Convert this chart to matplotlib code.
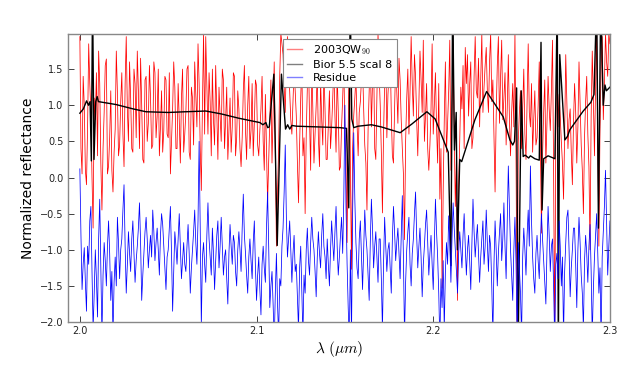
import numpy as np
import matplotlib
matplotlib.use("Agg")
import matplotlib.pyplot as plt

# wavelength grid of spectrum / residue (2.00 .. 2.30 um)
wl_start, wl_stop, n_pts = 2.0, 2.3, 481

spectrum = [
    1.95, 0.40, 0.05, 1.40, 1.00, 0.10, -0.10, 0.70, 1.85, 1.30, 0.90, 0.00, -0.70, 1.10, 0.80, 1.45,
    0.30, 1.75, 1.30, 0.20, -0.45, 0.40, 0.90, 1.55, 1.64, 0.05, 0.16, 0.55, 1.20, 0.10, -0.20, 0.35,
    0.67, 1.75, 1.18, 0.30, 0.45, 1.05, 1.45, 0.60, 0.15, 1.30, 1.95, 0.95, 0.50, 1.60, 1.10, 0.40,
    0.35, 1.50, 1.30, 0.55, 1.75, 1.20, 0.40, 1.65, 1.00, 0.25, 0.20, 1.35, 1.40, 0.50, 0.75, 1.55,
    1.10, 0.40, 0.45, 1.60, 1.45, 0.55, 0.85, 1.50, 0.30, 0.70, 1.20, 0.35, 0.65, 1.40, 1.35, 0.60,
    0.55, 1.45, 0.05, 0.50, 0.95, 1.60, 1.25, 0.40, 0.40, 1.30, 0.80, 0.20, 1.10, 1.50, 0.35, 0.60,
    0.90, 1.50, 1.55, 0.35, 0.25, 1.25, 1.10, 0.45, 1.60, 1.15, 0.70, 1.85, 1.30, 0.40, -0.18, 1.00,
    2.00, 0.60, 1.95, 1.30, 0.60, 1.45, 1.05, 0.30, 1.50, 0.80, 0.45, 1.55, 0.90, 0.25, 1.25, 0.85,
    0.50, 1.50, 1.35, 0.40, 0.80, 1.25, 0.25, 0.65, 1.10, 0.35, 0.70, 1.45, 1.40, 0.30, 0.55, 1.20,
    0.95, 0.40, 0.15, 0.55, 1.20, 1.55, 0.65, 0.25, 1.00, 1.40, 0.40, 0.65, 1.30, 0.30, 0.75, 1.35,
    1.27, 0.45, 0.30, 0.65, 0.95, 1.40, 0.50, 0.10, 1.15, 0.40, -0.35, 0.25, 0.80, 1.35, 0.20, 0.90,
    1.60, 0.30, -0.95, -0.20, 0.40, 1.40, 2.00, 1.85, 1.70, 1.25, 0.90, 1.60, 1.95, 1.40, 1.20, 0.80,
    0.60, 1.05, 1.50, 1.20, 0.85, 0.20, -0.35, 0.45, 1.10, 1.60, 0.30, 0.55, -0.50, 0.60, 1.25, 1.70,
    0.80, 0.10, 1.65, 0.90, 0.20, 0.60, 1.00, 1.45, 0.55, 0.15, 1.35, 0.80, 0.45, 1.50, 0.95, 0.25,
    0.25, 0.75, 1.20, 0.40, 0.70, 1.10, 1.55, 0.85, 0.35, 1.45, 0.90, 0.10, 0.15, 0.70, 1.10, 1.60,
    0.60, 0.20, -0.90, 0.65, 1.85, 0.10, -1.27, 0.40, 0.85, 1.10, 1.40, 0.75, 0.30, 0.90, 1.05, 1.35,
    1.55, 0.95, 0.45, 0.20, -0.45, 0.65, 1.20, 1.75, 0.70, 1.30, 1.70, 0.40, 0.25, 1.10, 2.00, 1.45,
    1.00, 0.35, -0.49, 0.60, 1.30, 1.80, 0.55, 1.15, 1.45, 1.75, 0.90, 0.30, 0.20, 0.95, 1.60, 1.20,
    0.75, 1.65, 1.35, 0.80, 0.40, 0.05, -0.86, 0.50, 1.10, 1.50, 0.60, 1.20, 1.95, 1.30, 0.85, 1.70,
    1.40, 0.80, 0.30, 1.00, 1.75, 1.35, 0.90, 1.90, 0.50, 0.85, 1.30, 0.40, 0.10, 0.45, 0.95, 1.85,
    0.60, 1.00, 1.45, 0.70, 0.20, 1.30, -0.30, 0.40, -1.53, -0.20, 0.80, 1.60, 0.35, 0.75, 1.20, 1.90,
    0.10, 0.90, 1.85, 0.60, -0.40, 0.30, -1.70, -0.10, 0.50, 1.25, 0.95, 1.55, 0.40, 1.80, 1.30, 1.70,
    0.85, 1.30, 1.60, 0.40, 0.55, 1.40, 1.95, 1.20, 1.10, 1.65, 0.70, 1.35, 2.00, 0.90, 1.25, 1.55,
    1.80, 1.20, 0.90, 1.60, 2.00, 1.05, 1.35, 0.60, -0.20, 0.85, 1.55, 1.95, 0.75, 1.40, 1.90, 0.80,
    1.10, 1.45, 0.45, 0.95, 1.70, 0.80, 0.30, 0.90, 1.30, 0.70, 2.00, 0.20, -2.40, 0.50, 0.90, 1.20,
    0.40, 0.95, 1.50, 0.60, 0.25, 1.05, 1.85, 0.90, 0.70, 1.30, 0.35, 0.80, 1.20, 0.45, 0.55, 1.00,
    1.60, 0.50, -0.77, 0.30, 0.90, 1.35, 0.20, 0.75, 1.40, 0.95, 0.65, 1.20, 1.90, 0.10, -2.30, 0.60,
    2.00, 0.70, 1.15, 0.85, 0.50, 0.20, -0.30, 0.60, 1.70, 1.05, 0.40, 0.80, 0.95, 0.35, -0.10, 0.75,
    1.30, 0.90, 0.20, 0.70, 1.60, 1.00, 0.45, 0.10, -0.50, 0.55, 1.05, 1.40, 0.60, 0.15, -1.00, 0.85,
    1.75, 1.10, 0.30, 1.25, 2.00, 0.40, -0.95, 0.65, 1.50, 1.95, 0.80, 1.30, 2.00, 1.60, 1.40, 2.00,
    1.85,
]

residue = [
    0.12, -0.80, -1.55, -1.20, -0.97, -1.45, -1.85, -0.95, -1.20, -0.60, -0.40, -1.30, -2.10, -1.60, -1.00, -1.40,
    -1.93, -0.85, -0.30, -1.25, -2.20, -1.35, -0.90, -1.15, -1.50, -0.95, -0.60, -1.05, -1.70, -1.30, -2.20, -1.45,
    -1.10, -1.50, -0.55, -0.90, -1.40, -1.00, -0.85, -0.45, -0.10, -0.95, -1.60, -1.20, -0.75, -1.05, -1.30, -0.85,
    -0.60, -1.05, -1.45, -1.15, -0.95, -0.70, -0.35, -0.90, -1.70, -1.35, -1.05, -0.75, -0.55, -0.85, -1.25, -1.00,
    -0.80, -1.10, -0.45, -0.75, -1.15, -0.90, -0.70, -1.00, -1.35, -0.80, -0.50, -0.65, -0.95, -1.25, -1.55, -1.10,
    -1.00, -0.70, -0.40, -1.05, -1.85, -1.30, -0.75, -0.95, -1.20, -0.85, -0.50, -0.95, -1.40, -1.15, -0.90, -1.20,
    -1.30, -0.95, -0.65, -1.05, -1.60, -1.25, -1.00, -0.75, -0.45, -0.90, -1.20, -0.60, 0.50, -0.70, -2.05, -1.10,
    -0.90, -1.20, -1.45, -0.80, -0.35, -0.85, -1.10, -1.35, -0.70, -1.05, -1.55, -1.15, -0.80, -0.60, -1.25, -0.95,
    -0.55, -0.95, -1.35, -1.10, -1.00, -1.40, -1.75, -1.05, -0.65, -0.95, -1.20, -0.80, -0.90, -1.30, -1.50, -1.00,
    -0.75, -1.00, -1.30, -0.70, -0.23, -0.80, -1.05, -1.35, -1.60, -1.10, -0.85, -1.15, -1.40, -0.90, -0.60, -1.25,
    -1.70, -1.35, -1.10, -1.55, -1.90, -1.20, -0.95, -1.25, -1.45, -0.70, -0.20, -0.95, -1.80, -1.50, -1.30, -1.75,
    -2.30, -1.60, -1.05, -1.75, -2.20, -1.40, -1.50, -0.95, -0.70, -0.20, 0.45, -0.55, -1.10, -0.85, -0.60, -1.00,
    -1.45, -1.05, -0.80, -1.30, -1.20, -1.65, -2.10, -1.25, -0.95, -1.55, -2.20, -1.35, -1.60, -1.00, -0.70, -1.15,
    -1.35, -0.90, -0.55, -0.85, -1.00, -1.30, -1.65, -1.10, -0.75, -1.05, -1.25, -0.80, -0.50, -0.95, -1.10, -1.40,
    -0.85, -1.20, -1.50, -1.00, -0.60, -0.90, -1.15, -0.75, -0.40, -0.95, -1.35, -1.10, -0.80, -0.55, -1.05, -0.30,
    1.00, -0.40, -1.20, -1.80, -2.30, -1.00, -2.20, -0.50, 0.62, -0.30, -0.90, -1.25, -1.40, -0.85, -0.60, -1.10,
    -1.55, -1.00, -0.45, -0.80, -1.00, -1.35, -1.70, -0.90, -0.30, -0.70, -1.25, -0.95, -0.75, -1.10, -1.45, -0.85,
    -0.85, -1.40, -2.10, -1.20, -0.55, -0.95, -1.30, -1.00, -0.90, -1.25, -1.60, -0.85, -0.40, -0.75, -1.15, -0.90,
    -0.70, -1.05, -1.40, -0.80, -0.25, -1.10, -2.20, -1.45, -1.00, -0.75, -0.55, -1.20, -1.50, -1.05, -0.85, -0.50,
    -0.20, -0.80, -1.25, -0.95, -0.70, -1.10, -1.65, -1.20, -0.95, -0.65, -0.45, -0.90, -1.35, -1.05, -0.80, -1.20,
    -1.55, -0.95, -0.30, -0.75, -1.10, -1.60, -2.30, -1.40, -1.80, -1.15, -2.10, -1.30, -0.90, -1.20, -0.53, -0.90,
    -1.45, -0.85, -0.35, -0.70, -1.00, -1.30, -1.60, -1.05, -0.75, -1.00, -1.25, -0.80, -0.50, -0.95, -1.35, -1.00,
    -0.80, -1.15, -1.55, -0.90, -0.30, -0.75, -1.10, -0.85, -0.65, -1.05, -1.45, -1.10, -0.85, -0.60, -1.20, -0.95,
    -0.45, -0.90, -1.30, -0.80, -0.95, -1.50, -2.20, -1.20, -0.60, -1.00, -1.50, -1.05, -0.75, -0.50, -1.15, -0.85,
    -0.35, -0.95, -1.40, -0.60, 0.16, -0.45, -1.00, -1.35, -1.70, -1.00, -0.55, -1.20, -2.30, -0.90, -1.25, -1.60,
    -2.20, -1.10, -0.70, -1.00, -1.35, -0.80, -0.45, -0.95, 0.16, -0.60, -1.10, -1.40, -1.60, -1.05, -0.80, -1.15,
    -1.40, -0.90, -0.50, -0.85, -1.15, -1.45, -1.75, -1.00, -0.40, -0.80, -1.30, -0.95, -0.85, -1.50, -2.30, -1.20,
    -1.05, -1.40, -0.60, -0.95, -1.50, -1.10, -2.20, -1.30, -0.90, -0.55, -0.45, -1.00, -1.65, -1.25, -1.00, -0.70,
    -0.70, -1.20, -1.80, -1.00, -0.55, -0.90, -1.35, -1.60, -2.10, -1.15, -0.80, -1.05, -1.45, -0.95, -0.65, -1.30,
    -2.20, -1.55, -1.10, -0.80, -0.50, -1.05, -1.60, -1.25, -2.30, -1.10, -0.75, -0.40, 0.10, -0.60, -1.35, -0.95,
    -0.60,
]

model_x = [
    2.0000, 2.0020, 2.0038, 2.0049, 2.0058, 2.0065, 2.0072, 2.0080, 2.0090,
    2.0098, 2.0105, 2.0204, 2.0300, 2.0374, 2.0500, 2.0600, 2.0713, 2.0800,
    2.0900, 2.1019, 2.1036, 2.1053, 2.1063, 2.1072, 2.1098, 2.1117, 2.1141,
    2.1164, 2.1176, 2.1188, 2.1200, 2.1226, 2.1350, 2.1472, 2.1509, 2.1522,
    2.1530, 2.1539, 2.1550, 2.1575, 2.1650, 2.1706, 2.1813, 2.1879, 2.1964,
    2.2011, 2.2085, 2.2100, 2.2110, 2.2120, 2.2130, 2.2137, 2.2150, 2.2161,
    2.2236, 2.2302, 2.2396, 2.2434, 2.2450, 2.2460, 2.2472, 2.2480, 2.2498,
    2.2509, 2.2520, 2.2540, 2.2550, 2.2575, 2.2600, 2.2610, 2.2616, 2.2625,
    2.2650, 2.2689, 2.2702, 2.2708, 2.2716, 2.2745, 2.2760, 2.2773, 2.2849,
    2.2892, 2.2910, 2.2925, 2.2935, 2.2948, 2.2962, 2.2972, 2.2980, 2.3000,
]
model_y = [
    0.89, 0.95, 1.06, 1.00, 1.05, 0.23, 2.50, 0.25, 1.05,
    1.12, 1.05, 1.01, 0.95, 0.91, 0.90, 0.91, 0.92, 0.88,
    0.82, 0.76, 0.73, 0.76, 0.69, 0.70, 1.43, -0.94, 1.43,
    0.67, 0.73, 0.67, 0.72, 0.71, 0.70, 0.69, 0.68, -0.42,
    2.50, 0.81, 0.69, 0.71, 0.73, 0.70, 0.62, 0.74, 0.91,
    0.81, 0.35, -1.22, 2.50, 0.38, 0.90, -1.00, 0.25, 0.22,
    0.80, 1.19, 0.84, 0.52, 0.45, 0.50, 1.24, -2.50, 1.20,
    0.29, 0.31, 0.27, 0.30, 0.26, 0.24, 1.87, -0.45, 0.26,
    0.30, 0.26, 2.50, -2.50, 1.70, 0.52, 0.57, 0.66, 0.92,
    1.04, 1.15, 2.50, -0.70, 2.50, 1.00, 1.28, 1.20, 1.25,
]

labels = ["2003QW$_{\\mathsf{90}}$", "Bior 5.5 scal 8", "Residue"]
x_ticks = [2.0, 2.1, 2.2, 2.3]
y_ticks = [-2.0, -1.5, -1.0, -0.5, 0.0, 0.5, 1.0, 1.5]

wl = np.linspace(wl_start, wl_stop, n_pts)

plt.rcParams['font.family'] = ['DejaVu Sans']
plt.rcParams['mathtext.fontset'] = 'cm'
fig = plt.figure(figsize=(6.4, 3.66), dpi=100)
ax = fig.add_axes([0.106, 0.120, 0.847, 0.787])

ax.plot(wl, spectrum, color='#ff0000', lw=0.55, label=labels[0])
ax.plot(model_x, model_y, color='black', lw=1.0, label=labels[1])
ax.plot(wl, residue, color='#0000ff', lw=0.55, label=labels[2])

ax.set_xlim(1.9932, 2.3)
ax.set_ylim(-2.0, 1.985)
ax.set_xticks(x_ticks)
ax.set_yticks(y_ticks)
ax.set_xticklabels([f"{v:.1f}" for v in x_ticks])
ax.set_yticklabels([f"{v:.1f}".replace('-', '\u2212') for v in y_ticks])
ax.tick_params(direction='in', top=True, right=True, length=4, width=0.6,
               labelsize=7, colors='#222222', pad=3)
for sp in ax.spines.values():
    sp.set_color('#888888')
    sp.set_linewidth(1.0)

ax.set_ylabel("Normalized reflectance", fontsize=10)
ax.set_xlabel(r"$\lambda\ (\mu m)$", fontsize=11, labelpad=2)

leg = ax.legend(loc='upper left', bbox_to_anchor=(0.397, 0.983), borderaxespad=0,
                fontsize=8, handlelength=1.3, fancybox=False, framealpha=1,
                edgecolor='#888888', borderpad=0.4, labelspacing=0.25,
                handletextpad=1.0)
leg.get_frame().set_linewidth(0.8)
for h in leg.get_lines():
    h.set_linewidth(1.0)
    h.set_alpha(0.5)

fig.savefig("out.png", dpi=100)
